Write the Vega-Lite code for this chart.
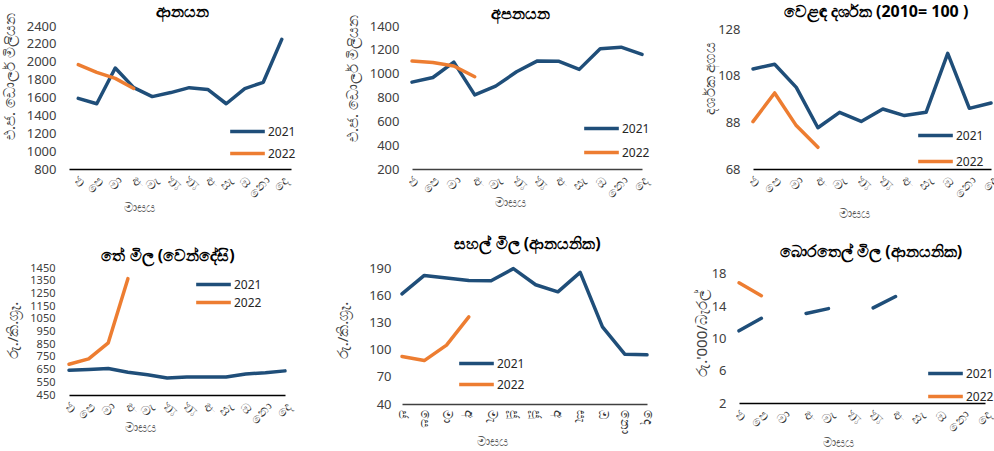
{
  "$schema": "https://vega.github.io/schema/vega-lite/v6.json",
  "padding": {"left": 2, "top": 3, "right": 0, "bottom": 0},
  "spacing": 16,
  "resolve": {"scale": {"color": "independent"}, "legend": {"color": "independent"}},
  "datasets": {
    "imports": [
      {"m": 1, "y": "2021", "v": 1590}, {"m": 2, "y": "2021", "v": 1530}, {"m": 3, "y": "2021", "v": 1930}, {"m": 4, "y": "2021", "v": 1710},
      {"m": 5, "y": "2021", "v": 1610}, {"m": 6, "y": "2021", "v": 1655}, {"m": 7, "y": "2021", "v": 1710}, {"m": 8, "y": "2021", "v": 1690},
      {"m": 9, "y": "2021", "v": 1530}, {"m": 10, "y": "2021", "v": 1700}, {"m": 11, "y": "2021", "v": 1770}, {"m": 12, "y": "2021", "v": 2250},
      {"m": 1, "y": "2022", "v": 1968}, {"m": 2, "y": "2022", "v": 1882}, {"m": 3, "y": "2022", "v": 1814}, {"m": 4, "y": "2022", "v": 1701}
    ],
    "exports": [
      {"m": 1, "y": "2021", "v": 929}, {"m": 2, "y": "2021", "v": 968}, {"m": 3, "y": "2021", "v": 1097}, {"m": 4, "y": "2021", "v": 822},
      {"m": 5, "y": "2021", "v": 895}, {"m": 6, "y": "2021", "v": 1016}, {"m": 7, "y": "2021", "v": 1107}, {"m": 8, "y": "2021", "v": 1105},
      {"m": 9, "y": "2021", "v": 1036}, {"m": 10, "y": "2021", "v": 1209}, {"m": 11, "y": "2021", "v": 1222}, {"m": 12, "y": "2021", "v": 1162},
      {"m": 1, "y": "2022", "v": 1106}, {"m": 2, "y": "2022", "v": 1094}, {"m": 3, "y": "2022", "v": 1064}, {"m": 4, "y": "2022", "v": 974}
    ],
    "index": [
      {"m": 1, "y": "2021", "v": 110.9}, {"m": 2, "y": "2021", "v": 112.9}, {"m": 3, "y": "2021", "v": 103}, {"m": 4, "y": "2021", "v": 85.7},
      {"m": 5, "y": "2021", "v": 92.3}, {"m": 6, "y": "2021", "v": 88.4}, {"m": 7, "y": "2021", "v": 93.7}, {"m": 8, "y": "2021", "v": 90.9},
      {"m": 9, "y": "2021", "v": 92.3}, {"m": 10, "y": "2021", "v": 117.6}, {"m": 11, "y": "2021", "v": 94}, {"m": 12, "y": "2021", "v": 96.3},
      {"m": 1, "y": "2022", "v": 88.3}, {"m": 2, "y": "2022", "v": 100.6}, {"m": 3, "y": "2022", "v": 86.6}, {"m": 4, "y": "2022", "v": 77.3}
    ],
    "tea": [
      {"m": 1, "y": "2021", "v": 645}, {"m": 2, "y": "2021", "v": 650}, {"m": 3, "y": "2021", "v": 658}, {"m": 4, "y": "2021", "v": 629},
      {"m": 5, "y": "2021", "v": 610}, {"m": 6, "y": "2021", "v": 584}, {"m": 7, "y": "2021", "v": 592}, {"m": 8, "y": "2021", "v": 592},
      {"m": 9, "y": "2021", "v": 592}, {"m": 10, "y": "2021", "v": 616}, {"m": 11, "y": "2021", "v": 626}, {"m": 12, "y": "2021", "v": 640},
      {"m": 1, "y": "2022", "v": 692}, {"m": 2, "y": "2022", "v": 734}, {"m": 3, "y": "2022", "v": 861}, {"m": 4, "y": "2022", "v": 1366}
    ],
    "rice": [
      {"m": 1, "y": "2021", "v": 161.4}, {"m": 2, "y": "2021", "v": 181.8}, {"m": 3, "y": "2021", "v": 178.9}, {"m": 4, "y": "2021", "v": 176.3},
      {"m": 5, "y": "2021", "v": 175.9}, {"m": 6, "y": "2021", "v": 189.3}, {"m": 7, "y": "2021", "v": 171.5}, {"m": 8, "y": "2021", "v": 163.7},
      {"m": 9, "y": "2021", "v": 185.2}, {"m": 10, "y": "2021", "v": 125.1}, {"m": 11, "y": "2021", "v": 95}, {"m": 12, "y": "2021", "v": 94.2},
      {"m": 1, "y": "2022", "v": 92.4}, {"m": 2, "y": "2022", "v": 87.9}, {"m": 3, "y": "2022", "v": 105}, {"m": 4, "y": "2022", "v": 136}
    ],
    "oil": [
      {"m": 1, "y": "2021", "v": 10.95}, {"m": 2, "y": "2021", "v": 12.5}, {"m": 3, "y": "2021", "v": null}, {"m": 4, "y": "2021", "v": 13.1},
      {"m": 5, "y": "2021", "v": 13.7}, {"m": 6, "y": "2021", "v": null}, {"m": 7, "y": "2021", "v": 13.8}, {"m": 8, "y": "2021", "v": 15.2},
      {"m": 1, "y": "2022", "v": 16.9}, {"m": 2, "y": "2022", "v": 15.3}
    ]
  },
  "vconcat": [
    {
      "spacing": 49,
      "resolve": {"scale": {"color": "independent"}, "legend": {"color": "independent"}},
      "hconcat": [
        {
          "width": 222, "height": 143,
          "data": {"name": "imports"},
          "title": {"text": "ආනයන", "offset": -7, "dx": 2},
          "mark": {"type": "line", "strokeWidth": 3.5, "strokeCap": "round", "strokeJoin": "round", "invalid": "break-paths-show-domains"},
          "encoding": {
            "x": {"field": "m", "type": "ordinal", "title": "මාසය", "scale": {"type": "point", "padding": 0.5, "domain": [1,2,3,4,5,6,7,8,9,10,11,12]}, "axis": {"labelExpr": "['ජ','පෙ','මා','අ','මැ','ජූ','ජූ','අ','සැ','ඔ','නො','දෙ'][datum.value-1]", "titleX": 70, "titleY": 32}},
            "y": {"field": "v", "type": "quantitative", "title": "එ.ජ. ඩොලර් මිලියන", "scale": {"domain": [800, 2400], "nice": false, "zero": false}, "axis": {"values": [800,1000,1200,1400,1600,1800,2000,2200,2400], "format": "d", "titleX": -60, "titleY": 50}},
            "color": {"field": "y", "type": "nominal", "scale": {"domain": ["2021", "2022"], "range": ["#1F4E79", "#ED7D31"]}, "legend": {"legendX": 168, "legendY": 95, "rowPadding": 4}}
          }
        },
        {
          "width": 230, "height": 143,
          "data": {"name": "exports"},
          "title": {"text": "අපනයන", "offset": -7, "dx": -7},
          "mark": {"type": "line", "strokeWidth": 3.5, "strokeCap": "round", "strokeJoin": "round", "invalid": "break-paths-show-domains"},
          "encoding": {
            "x": {"field": "m", "type": "ordinal", "title": "මාසය", "scale": {"type": "point", "padding": 0, "domain": [1,2,3,4,5,6,7,8,9,10,11,12]}, "axis": {"labelExpr": "['ජ','පෙ','මා','අ','මැ','ජූ','ජූ','අ','සැ','ඔ','නො','දෙ'][datum.value-1]", "titleX": 98, "titleY": 27, "domainColor": "#404040"}},
            "y": {"field": "v", "type": "quantitative", "title": "එ.ජ. ඩොලර් මිලියන", "scale": {"domain": [200, 1400], "nice": false, "zero": false}, "axis": {"values": [200,400,600,800,1000,1200,1400], "format": "d", "titleX": -60, "titleY": 52}},
            "color": {"field": "y", "type": "nominal", "scale": {"domain": ["2021", "2022"], "range": ["#1F4E79", "#ED7D31"]}, "legend": {"legendX": 179, "legendY": 92, "rowPadding": 6}}
          }
        },
        {
          "width": 238, "height": 143,
          "data": {"name": "index"},
          "title": {"text": "වෙළඳ දර්ශක (2010= 100 )", "offset": 3, "dx": 4},
          "mark": {"type": "line", "strokeWidth": 3.5, "strokeCap": "round", "strokeJoin": "round", "invalid": "break-paths-show-domains"},
          "encoding": {
            "x": {"field": "m", "type": "ordinal", "title": "මාසය", "scale": {"type": "point", "padding": 0, "domain": [1,2,3,4,5,6,7,8,9,10,11,12]}, "axis": {"labelExpr": "['ජ','පෙ','මා','අ','මැ','ජූ','ජූ','අ','සැ','ඔ','නො','දෙ'][datum.value-1]", "titleX": 101, "titleY": 38}},
            "y": {"field": "v", "type": "quantitative", "title": "දර්ශක අගය", "scale": {"domain": [68, 129.3], "nice": false, "zero": false}, "axis": {"values": [68, 88, 108, 128], "format": "d", "titleX": -44, "titleY": 52}},
            "color": {"field": "y", "type": "nominal", "scale": {"domain": ["2021", "2022"], "range": ["#1F4E79", "#ED7D31"]}, "legend": {"legendX": 172, "legendY": 99, "rowPadding": 8}}
          }
        }
      ]
    },
    {
      "spacing": 40,
      "resolve": {"scale": {"color": "independent"}, "legend": {"color": "independent"}},
      "hconcat": [
        {
          "width": 216, "height": 127,
          "data": {"name": "tea"},
          "title": {"text": "තේ මිල (වෙන්දේසි)", "offset": -2, "dx": -9},
          "mark": {"type": "line", "strokeWidth": 3.5, "strokeCap": "round", "strokeJoin": "round", "invalid": "break-paths-show-domains"},
          "encoding": {
            "x": {"field": "m", "type": "ordinal", "title": "මාසය", "scale": {"type": "point", "padding": 0, "domain": [1,2,3,4,5,6,7,8,9,10,11,12]}, "axis": {"labelExpr": "['ජ','පෙ','මා','අ','මැ','ජූ','ජූ','අ','සැ','ඔ','නො','දෙ'][datum.value-1]", "titleX": 71, "titleY": 26}},
            "y": {"field": "v", "type": "quantitative", "title": "රු./කි.ග්‍රෑ.", "scale": {"domain": [450, 1450], "nice": false, "zero": false}, "axis": {"values": [450,550,650,750,850,950,1050,1150,1250,1350,1450], "format": "d", "titleX": -57, "titleY": 62, "labelFontSize": 11, "labelPadding": 14}},
            "color": {"field": "y", "type": "nominal", "scale": {"domain": ["2021", "2022"], "range": ["#1F4E79", "#ED7D31"]}, "legend": {"legendX": 134, "legendY": 6, "rowPadding": 0}}
          }
        },
        {
          "width": 245, "height": 136,
          "data": {"name": "rice"},
          "title": {"text": "සහල් මිල (ආනයනික)", "offset": 10, "dx": 3},
          "mark": {"type": "line", "strokeWidth": 3.5, "strokeCap": "round", "strokeJoin": "round", "invalid": "break-paths-show-domains"},
          "encoding": {
            "x": {"field": "m", "type": "ordinal", "title": "මාසය", "scale": {"type": "point", "padding": 0, "domain": [1,2,3,4,5,6,7,8,9,10,11,12]}, "axis": {"labelExpr": "['ජ','පෙ','මා','අ','මැ','ජූ','ජූ','අ','සැ','ඔ','නො','දෙ'][datum.value-1]", "labelAngle": 90, "titleX": 90, "titleY": 31, "domainColor": "#404040"}},
            "y": {"field": "v", "type": "quantitative", "title": "රු./කි.ග්‍රෑ.", "scale": {"domain": [40, 190], "nice": false, "zero": false}, "axis": {"values": [40,70,100,130,160,190], "format": "d", "titleX": -60, "titleY": 62, "labelPadding": 11}},
            "color": {"field": "y", "type": "nominal", "scale": {"domain": ["2021", "2022"], "range": ["#1F4E79", "#ED7D31"]}, "legend": {"legendX": 64, "legendY": 85, "rowPadding": 3}}
          }
        },
        {
          "width": 246, "height": 135,
          "data": {"name": "oil"},
          "title": {"text": "බොරතෙල් මිල (ආනයනික)", "offset": 8, "dx": 9},
          "mark": {"type": "line", "strokeWidth": 3.5, "strokeCap": "round", "strokeJoin": "round", "invalid": "break-paths-show-domains"},
          "encoding": {
            "x": {"field": "m", "type": "ordinal", "title": "මාසය", "scale": {"type": "point", "padding": 0, "domain": [1,2,3,4,5,6,7,8,9,10,11,12]}, "axis": {"labelExpr": "['ජ','පෙ','මා','අ','මැ','ජූ','ජූ','අ','සැ','ඔ','නො','දෙ'][datum.value-1]", "titleX": 99, "titleY": 33}},
            "y": {"field": "v", "type": "quantitative", "title": "රු.'000/බැරල්", "scale": {"domain": [2, 18.74], "nice": false, "zero": false}, "axis": {"values": [2, 6, 10, 14, 18], "format": "d", "titleX": -38, "titleY": 65}},
            "color": {"field": "y", "type": "nominal", "scale": {"domain": ["2021", "2022"], "range": ["#1F4E79", "#ED7D31"]}, "legend": {"legendX": 196, "legendY": 95, "rowPadding": 5}}
          }
        }
      ]
    }
  ],
  "config": {
    "view": {"stroke": null},
    "font": "Noto Sans",
    "axis": {"grid": false, "ticks": false, "labelFont": "Noto Sans", "titleFont": "Noto Sans"},
    "axisX": {"domainColor": "#000000", "domainWidth": 1.5, "labelAngle": -45, "labelFontSize": 13, "labelColor": "#333333", "labelPadding": 5, "titleFontSize": 13, "titleFontWeight": "normal", "titleColor": "#595959"},
    "axisY": {"domain": false, "labelFontSize": 13, "labelColor": "#404040", "labelPadding": 13, "titleFontSize": 15, "titleFontWeight": "normal", "titleColor": "#404040", "titleBaseline": "middle"},
    "legend": {"orient": "none", "title": null, "symbolType": "M-2,0L2,0", "symbolSize": 300, "symbolStrokeWidth": 3.5, "labelFontSize": 12, "labelColor": "#262626", "labelOffset": 10, "padding": 0},
    "title": {"fontSize": 16, "fontWeight": "bold", "anchor": "middle", "frame": "group", "baseline": "bottom", "color": "#000000"}
  }
}
